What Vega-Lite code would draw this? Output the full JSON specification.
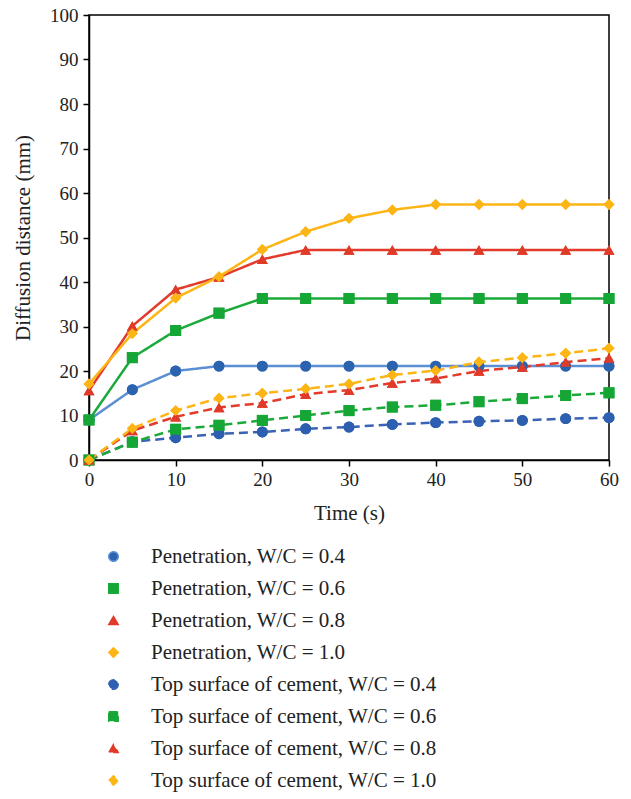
{
  "$schema": "https://vega.github.io/schema/vega-lite/v6.json",
  "width": 520,
  "height": 445,
  "autosize": {"type": "none"},
  "padding": {"left": 89, "top": 15, "right": 22, "bottom": 339},
  "data": {"values": [
    {"t":0,"d":9,"s":"Penetration, W/C = 0.4"},{"t":5,"d":15.8,"s":"Penetration, W/C = 0.4"},{"t":10,"d":20,"s":"Penetration, W/C = 0.4"},{"t":15,"d":21.1,"s":"Penetration, W/C = 0.4"},{"t":20,"d":21.1,"s":"Penetration, W/C = 0.4"},{"t":25,"d":21.1,"s":"Penetration, W/C = 0.4"},{"t":30,"d":21.1,"s":"Penetration, W/C = 0.4"},{"t":35,"d":21.1,"s":"Penetration, W/C = 0.4"},{"t":40,"d":21.1,"s":"Penetration, W/C = 0.4"},{"t":45,"d":21.1,"s":"Penetration, W/C = 0.4"},{"t":50,"d":21.1,"s":"Penetration, W/C = 0.4"},{"t":55,"d":21.1,"s":"Penetration, W/C = 0.4"},{"t":60,"d":21.1,"s":"Penetration, W/C = 0.4"},
    {"t":0,"d":9,"s":"Penetration, W/C = 0.6"},{"t":5,"d":23,"s":"Penetration, W/C = 0.6"},{"t":10,"d":29.1,"s":"Penetration, W/C = 0.6"},{"t":15,"d":33,"s":"Penetration, W/C = 0.6"},{"t":20,"d":36.3,"s":"Penetration, W/C = 0.6"},{"t":25,"d":36.3,"s":"Penetration, W/C = 0.6"},{"t":30,"d":36.3,"s":"Penetration, W/C = 0.6"},{"t":35,"d":36.3,"s":"Penetration, W/C = 0.6"},{"t":40,"d":36.3,"s":"Penetration, W/C = 0.6"},{"t":45,"d":36.3,"s":"Penetration, W/C = 0.6"},{"t":50,"d":36.3,"s":"Penetration, W/C = 0.6"},{"t":55,"d":36.3,"s":"Penetration, W/C = 0.6"},{"t":60,"d":36.3,"s":"Penetration, W/C = 0.6"},
    {"t":0,"d":15.6,"s":"Penetration, W/C = 0.8"},{"t":5,"d":30.1,"s":"Penetration, W/C = 0.8"},{"t":10,"d":38.3,"s":"Penetration, W/C = 0.8"},{"t":15,"d":41.1,"s":"Penetration, W/C = 0.8"},{"t":20,"d":45.1,"s":"Penetration, W/C = 0.8"},{"t":25,"d":47.2,"s":"Penetration, W/C = 0.8"},{"t":30,"d":47.2,"s":"Penetration, W/C = 0.8"},{"t":35,"d":47.2,"s":"Penetration, W/C = 0.8"},{"t":40,"d":47.2,"s":"Penetration, W/C = 0.8"},{"t":45,"d":47.2,"s":"Penetration, W/C = 0.8"},{"t":50,"d":47.2,"s":"Penetration, W/C = 0.8"},{"t":55,"d":47.2,"s":"Penetration, W/C = 0.8"},{"t":60,"d":47.2,"s":"Penetration, W/C = 0.8"},
    {"t":0,"d":17.1,"s":"Penetration, W/C = 1.0"},{"t":5,"d":28.4,"s":"Penetration, W/C = 1.0"},{"t":10,"d":36.4,"s":"Penetration, W/C = 1.0"},{"t":15,"d":41.2,"s":"Penetration, W/C = 1.0"},{"t":20,"d":47.3,"s":"Penetration, W/C = 1.0"},{"t":25,"d":51.3,"s":"Penetration, W/C = 1.0"},{"t":30,"d":54.3,"s":"Penetration, W/C = 1.0"},{"t":35,"d":56.2,"s":"Penetration, W/C = 1.0"},{"t":40,"d":57.4,"s":"Penetration, W/C = 1.0"},{"t":45,"d":57.4,"s":"Penetration, W/C = 1.0"},{"t":50,"d":57.4,"s":"Penetration, W/C = 1.0"},{"t":55,"d":57.4,"s":"Penetration, W/C = 1.0"},{"t":60,"d":57.4,"s":"Penetration, W/C = 1.0"},
    {"t":0,"d":0,"s":"Top surface of cement, W/C = 0.4"},{"t":5,"d":4.1,"s":"Top surface of cement, W/C = 0.4"},{"t":10,"d":5,"s":"Top surface of cement, W/C = 0.4"},{"t":15,"d":5.9,"s":"Top surface of cement, W/C = 0.4"},{"t":20,"d":6.3,"s":"Top surface of cement, W/C = 0.4"},{"t":25,"d":7,"s":"Top surface of cement, W/C = 0.4"},{"t":30,"d":7.4,"s":"Top surface of cement, W/C = 0.4"},{"t":35,"d":8,"s":"Top surface of cement, W/C = 0.4"},{"t":40,"d":8.4,"s":"Top surface of cement, W/C = 0.4"},{"t":45,"d":8.7,"s":"Top surface of cement, W/C = 0.4"},{"t":50,"d":8.9,"s":"Top surface of cement, W/C = 0.4"},{"t":55,"d":9.3,"s":"Top surface of cement, W/C = 0.4"},{"t":60,"d":9.5,"s":"Top surface of cement, W/C = 0.4"},
    {"t":0,"d":0,"s":"Top surface of cement, W/C = 0.6"},{"t":5,"d":4,"s":"Top surface of cement, W/C = 0.6"},{"t":10,"d":6.9,"s":"Top surface of cement, W/C = 0.6"},{"t":15,"d":7.8,"s":"Top surface of cement, W/C = 0.6"},{"t":20,"d":8.9,"s":"Top surface of cement, W/C = 0.6"},{"t":25,"d":10,"s":"Top surface of cement, W/C = 0.6"},{"t":30,"d":11.1,"s":"Top surface of cement, W/C = 0.6"},{"t":35,"d":11.9,"s":"Top surface of cement, W/C = 0.6"},{"t":40,"d":12.3,"s":"Top surface of cement, W/C = 0.6"},{"t":45,"d":13.1,"s":"Top surface of cement, W/C = 0.6"},{"t":50,"d":13.8,"s":"Top surface of cement, W/C = 0.6"},{"t":55,"d":14.5,"s":"Top surface of cement, W/C = 0.6"},{"t":60,"d":15.1,"s":"Top surface of cement, W/C = 0.6"},
    {"t":0,"d":0,"s":"Top surface of cement, W/C = 0.8"},{"t":5,"d":6.6,"s":"Top surface of cement, W/C = 0.8"},{"t":10,"d":9.7,"s":"Top surface of cement, W/C = 0.8"},{"t":15,"d":11.8,"s":"Top surface of cement, W/C = 0.8"},{"t":20,"d":12.8,"s":"Top surface of cement, W/C = 0.8"},{"t":25,"d":14.8,"s":"Top surface of cement, W/C = 0.8"},{"t":30,"d":15.7,"s":"Top surface of cement, W/C = 0.8"},{"t":35,"d":17.3,"s":"Top surface of cement, W/C = 0.8"},{"t":40,"d":18.3,"s":"Top surface of cement, W/C = 0.8"},{"t":45,"d":20,"s":"Top surface of cement, W/C = 0.8"},{"t":50,"d":20.9,"s":"Top surface of cement, W/C = 0.8"},{"t":55,"d":22,"s":"Top surface of cement, W/C = 0.8"},{"t":60,"d":22.9,"s":"Top surface of cement, W/C = 0.8"},
    {"t":0,"d":0,"s":"Top surface of cement, W/C = 1.0"},{"t":5,"d":7.1,"s":"Top surface of cement, W/C = 1.0"},{"t":10,"d":11.1,"s":"Top surface of cement, W/C = 1.0"},{"t":15,"d":13.9,"s":"Top surface of cement, W/C = 1.0"},{"t":20,"d":15,"s":"Top surface of cement, W/C = 1.0"},{"t":25,"d":16,"s":"Top surface of cement, W/C = 1.0"},{"t":30,"d":17.1,"s":"Top surface of cement, W/C = 1.0"},{"t":35,"d":19.1,"s":"Top surface of cement, W/C = 1.0"},{"t":40,"d":20.1,"s":"Top surface of cement, W/C = 1.0"},{"t":45,"d":22,"s":"Top surface of cement, W/C = 1.0"},{"t":50,"d":23,"s":"Top surface of cement, W/C = 1.0"},{"t":55,"d":24,"s":"Top surface of cement, W/C = 1.0"},{"t":60,"d":25.1,"s":"Top surface of cement, W/C = 1.0"}
  ]},
  "encoding": {
    "x": {"field": "t", "type": "quantitative",
      "scale": {"domain": [0, 60], "nice": false},
      "axis": {"values": [0,10,20,30,40,50,60], "title": "Time (s)", "tickSize": 6, "labelPadding": 4, "titlePadding": 13, "labelFlush": false}},
    "y": {"field": "d", "type": "quantitative",
      "scale": {"domain": [0, 100], "nice": false},
      "axis": {"values": [0,10,20,30,40,50,60,70,80,90,100], "title": "Diffusion distance (mm)", "tickSize": 6, "labelPadding": 5, "titlePadding": 16, "labelFlush": false}}
  },
  "layer": [
    {
      "mark": {"type": "point", "filled": true, "size": 120, "opacity": 1},
      "encoding": {
        "color": {"field": "s", "type": "nominal",
          "scale": {"domain": ["Penetration, W/C = 0.4","Penetration, W/C = 0.6","Penetration, W/C = 0.8","Penetration, W/C = 1.0","Top surface of cement, W/C = 0.4","Top surface of cement, W/C = 0.6","Top surface of cement, W/C = 0.8","Top surface of cement, W/C = 1.0"],
            "range": ["#2C63AF","#16A635","#E03A28","#FDB515","#2C5FAF","#16A635","#E03A28","#FDB515"]},
          "legend": {"orient": "none", "legendX": 14, "legendY": 531, "title": null, "direction": "vertical", "columns": 1,
            "labelFont": "Liberation Serif", "labelFontSize": 21, "labelColor": "#222", "labelLimit": 500,
            "symbolSize": 90, "symbolStrokeWidth": 1.5, "labelOffset": 27, "rowPadding": 10}},
        "shape": {"field": "s", "type": "nominal",
          "scale": {"domain": ["Penetration, W/C = 0.4","Penetration, W/C = 0.6","Penetration, W/C = 0.8","Penetration, W/C = 1.0","Top surface of cement, W/C = 0.4","Top surface of cement, W/C = 0.6","Top surface of cement, W/C = 0.8","Top surface of cement, W/C = 1.0"],
            "range": ["circle","square","triangle-up","diamond","circle","square","triangle-up","diamond"]},
          "legend": {"orient": "none", "legendX": 14, "legendY": 531, "title": null, "direction": "vertical", "columns": 1,
            "labelFont": "Liberation Serif", "labelFontSize": 21, "labelColor": "#222", "labelLimit": 500,
            "symbolSize": 90, "symbolStrokeWidth": 1.5, "labelOffset": 27, "rowPadding": 10}}
      }
    },
    {
      "mark": {"type": "line", "strokeWidth": 2.5},
      "encoding": {
        "stroke": {"field": "s", "type": "nominal",
          "scale": {"domain": ["Penetration, W/C = 0.4","Penetration, W/C = 0.6","Penetration, W/C = 0.8","Penetration, W/C = 1.0","Top surface of cement, W/C = 0.4","Top surface of cement, W/C = 0.6","Top surface of cement, W/C = 0.8","Top surface of cement, W/C = 1.0"],
            "range": ["#5B8FD3","#1BAA3A","#E23B2B","#FDB515","#3A62B5","#1BAA3A","#E23B2B","#FDB515"]},
          "legend": {"orient": "none", "legendX": 14, "legendY": 531, "title": null, "direction": "vertical", "columns": 1,
            "labelFont": "Liberation Serif", "labelFontSize": 21, "labelColor": "#222", "labelLimit": 500,
            "symbolSize": 90, "symbolStrokeWidth": 1.5, "labelOffset": 27, "rowPadding": 10}},
        "strokeDash": {"field": "s", "type": "nominal",
          "scale": {"domain": ["Penetration, W/C = 0.4","Penetration, W/C = 0.6","Penetration, W/C = 0.8","Penetration, W/C = 1.0","Top surface of cement, W/C = 0.4","Top surface of cement, W/C = 0.6","Top surface of cement, W/C = 0.8","Top surface of cement, W/C = 1.0"],
            "range": [[1,0],[1,0],[1,0],[1,0],[9,5],[9,5],[9,5],[9,5]]},
          "legend": {"orient": "none", "legendX": 14, "legendY": 531, "title": null, "direction": "vertical", "columns": 1,
            "labelFont": "Liberation Serif", "labelFontSize": 21, "labelColor": "#222", "labelLimit": 500,
            "symbolSize": 90, "symbolStrokeWidth": 1.5, "labelOffset": 27, "rowPadding": 10}}
      }
    },
    {
      "mark": {"type": "point", "filled": true, "size": 120, "opacity": 1},
      "encoding": {
        "color": {"field": "s", "type": "nominal",
          "legend": {"orient": "none", "legendX": 14, "legendY": 531, "title": null, "direction": "vertical", "columns": 1,
            "labelFont": "Liberation Serif", "labelFontSize": 21, "labelColor": "#222", "labelLimit": 500,
            "symbolSize": 90, "symbolStrokeWidth": 1.5, "labelOffset": 27, "rowPadding": 10}},
        "shape": {"field": "s", "type": "nominal",
          "legend": {"orient": "none", "legendX": 14, "legendY": 531, "title": null, "direction": "vertical", "columns": 1,
            "labelFont": "Liberation Serif", "labelFontSize": 21, "labelColor": "#222", "labelLimit": 500,
            "symbolSize": 90, "symbolStrokeWidth": 1.5, "labelOffset": 27, "rowPadding": 10}}
      }
    }
  ],
  "config": {
    "view": {"stroke": "black", "strokeWidth": 1.5},
    "axis": {"grid": false, "domainColor": "black", "domainWidth": 1.5, "tickColor": "black", "tickWidth": 1.5,
      "labelFont": "Liberation Serif", "labelFontSize": 19, "labelColor": "#222",
      "titleFont": "Liberation Serif", "titleFontSize": 21, "titleFontWeight": "normal", "titleColor": "#222"}
  }
}
